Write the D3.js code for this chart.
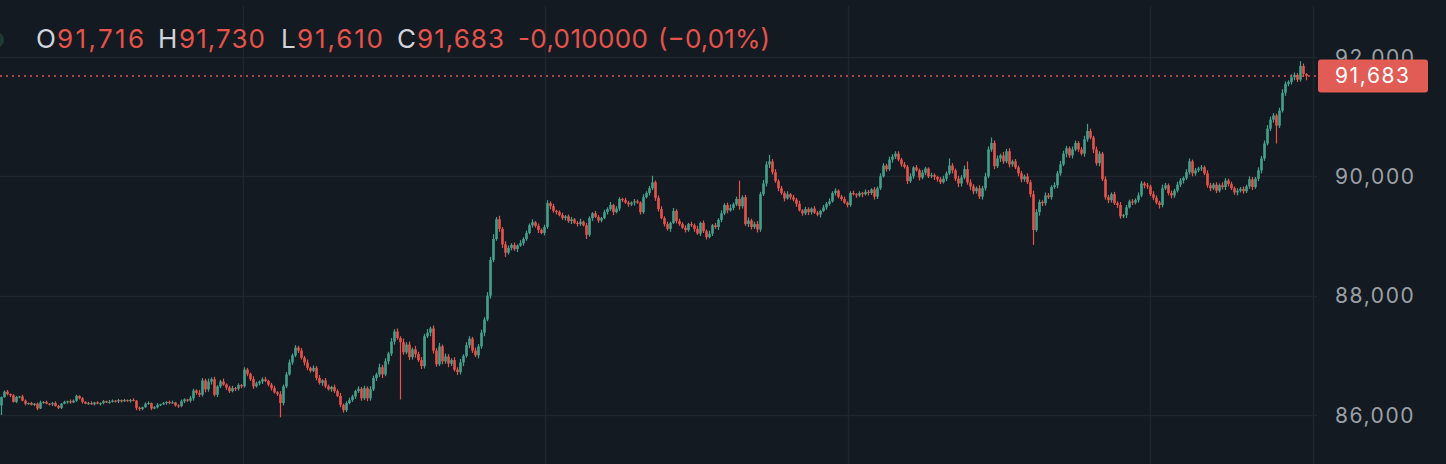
<!DOCTYPE html>
<meta charset="utf-8">
<body>
<script src="https://d3js.org/d3.v7.min.js" charset="utf-8"></script>
<style type="text/css">
  html, body {
    margin: 0;
    padding: 0;
    background: #131a21;
    overflow: hidden;
  }
  .legend text {
    font-family: Inter, "Noto Sans", sans-serif;
    font-size: 26px;
  }
  .axis text {
    font-family: Inter, "Noto Sans", sans-serif;
    font-size: 21px;
    letter-spacing: 1.6px;
    fill: #9ba0a7;
  }
</style>
<script>
var width = 1446;
var height = 464;

// close of every candle, left to right (open = previous close)
var firstOpen = 86160;
var closes = [
  86300,86390,86350,86330,86220,86300,86310,86240,86190,86200,
  86170,86190,86110,86210,86220,86190,86180,86200,86150,86120,
  86190,86220,86230,86210,86240,86320,86280,86220,86190,86200,
  86180,86210,86190,86200,86230,86210,86220,86240,86230,86250,
  86230,86250,86240,86250,86240,86120,86100,86130,86190,86200,
  86110,86130,86170,86180,86200,86220,86200,86210,86160,86150,
  86230,86260,86240,86280,86410,86370,86340,86580,86430,86560,
  86600,86340,86480,86560,86510,86460,86400,86450,86440,86500,
  86480,86760,86690,86600,86480,86530,86560,86600,86570,86510,
  86450,86380,86350,86200,86480,86680,86880,87000,87130,87080,
  86960,86880,86790,86740,86790,86620,86540,86580,86480,86430,
  86470,86400,86320,86170,86080,86200,86250,86310,86400,86440,
  86280,86450,86280,86430,86620,86680,86800,86680,86900,87030,
  87230,87400,87290,87220,87050,87180,86970,87100,87020,86920,
  86820,87320,87380,87450,87080,86850,87150,86900,86980,86860,
  86920,86760,86720,86880,86990,87170,87280,87080,87000,87150,
  87380,87600,88000,88600,88950,89280,89120,88860,88720,88800,
  88850,88780,88840,88880,88950,89050,89180,89230,89170,89100,
  89050,89150,89550,89500,89420,89400,89350,89300,89330,89250,
  89280,89220,89200,89240,89180,89020,89300,89380,89320,89260,
  89300,89400,89450,89520,89400,89460,89620,89600,89560,89530,
  89560,89580,89560,89400,89650,89720,89800,89900,89640,89450,
  89300,89200,89120,89220,89420,89250,89200,89140,89100,89200,
  89180,89120,89040,89220,89080,88980,89040,89180,89150,89270,
  89380,89520,89430,89470,89530,89620,89500,89650,89200,89260,
  89150,89200,89110,89700,89880,90200,90250,90070,89920,89800,
  89720,89630,89700,89650,89610,89540,89430,89380,89450,89400,
  89460,89390,89360,89420,89480,89540,89580,89720,89760,89660,
  89620,89560,89520,89720,89700,89680,89720,89700,89740,89720,
  89780,89660,89800,90000,90180,90120,90280,90330,90380,90280,
  90200,90160,89920,90000,90150,90100,89980,90060,90130,90000,
  90020,89990,89950,89900,89960,90050,90180,90100,89960,89880,
  89980,90120,89900,89830,89750,89800,89660,89800,90000,90450,
  90560,90170,90300,90350,90250,90420,90200,90250,90150,90050,
  89950,90000,89900,89700,89100,89400,89570,89550,89680,89650,
  89820,89850,90050,90200,90380,90470,90350,90450,90560,90450,
  90380,90620,90760,90650,90450,90220,90380,89950,89650,89600,
  89700,89550,89520,89330,89350,89480,89580,89560,89600,89680,
  89880,89850,89830,89700,89640,89560,89520,89800,89850,89720,
  89680,89760,89860,89930,89970,90070,90250,90050,90100,90130,
  90150,90050,89850,89800,89860,89760,89850,89820,89930,89870,
  89800,89730,89760,89790,89750,89830,89950,89820,89960,90100,
  90300,90550,90800,90950,91020,90850,91100,91400,91550,91580,
  91660,91700,91620,91850,91716,91683
];

// upper and lower wick length of each candle, in tens of price points
var wickUp = [
  1,2,3,1,2,2,1,3,2,1, 2,1,2,3,1,2,1,2,3,2, 1,2,1,3,2,2,1,2,1,2,
  3,1,2,1,2,1,3,2,1,2, 1,2,1,2,3,1,2,1,2,3, 1,2,3,1,2,1,2,3,1,2,
  3,2,1,4,3,2,5,4,3,5, 3,4,2,3,5,2,3,4,2,3, 2,4,3,2,5,3,2,3,4,2,
  3,4,2,5,3,4,5,3,4,3, 4,3,5,2,4,3,5,2,4,3, 2,4,3,5,2,3,4,3,2,4,
  3,4,3,5,4,3,6,4,5,3, 6,4,5,3,6,4,5,3,6,4, 5,4,6,3,5,4,6,3,5,4,
  3,5,4,6,3,5,4,3,5,4, 5,4,6,5,8,4,6,3,5,4, 3,4,2,5,3,4,3,5,2,4,
  3,4,6,3,4,2,3,4,2,3, 4,2,3,5,2,4,3,2,4,3, 2,4,3,5,2,4,3,2,4,3,
  2,4,3,2,5,3,4,6,3,4, 5,3,4,2,5,3,4,3,4,2, 4,3,5,2,4,3,5,2,4,3,
  5,3,4,6,3,4,5,3,4,5, 3,4,5,4,6,5,3,4,5,3, 4,3,5,2,4,3,5,2,4,3,
  2,4,3,2,4,3,5,3,4,2, 3,4,2,3,4,2,3,2,4,3, 2,4,3,5,4,3,5,4,3,4,
  3,4,3,5,2,4,3,5,3,2, 4,3,2,4,5,3,6,4,3,5, 4,6,3,5,4,3,5,4,6,5,
  6,4,5,3,6,4,5,3,4,3, 4,3,5,4,6,5,4,3,5,4, 3,5,4,6,5,4,3,5,4,3,
  4,6,5,4,3,5,4,3,5,4, 3,4,3,5,2,4,3,4,3,5, 4,3,4,3,5,4,3,6,4,3,
  4,3,5,4,3,5,6,3,4,3, 4,3,5,4,3,4,3,5,4,3, 4,3,4,3,4,3,5,4,3,5,
  4,5,6,5,4,3,5,6,4,3, 5,4,3,5,4,1
];
var wickDn = [
  2,1,2,3,1,2,2,1,3,2, 1,2,3,1,2,1,2,3,1,2, 2,1,3,2,1,2,2,3,1,2,
  1,2,1,3,2,1,2,1,2,3, 2,1,2,3,1,2,3,2,1,2, 3,1,2,2,1,3,2,1,2,3,
  2,3,2,3,4,3,4,3,5,4, 5,3,4,3,2,4,3,2,4,3, 3,2,4,3,4,2,3,4,2,3,
  4,2,3,5,4,3,2,4,3,4, 3,5,4,3,2,4,3,5,3,2, 4,3,2,4,5,3,2,3,4,3,
  4,3,5,4,3,5,4,6,3,5, 4,5,3,6,4,3,5,4,6,3, 5,4,3,6,5,4,3,5,4,6,
  4,3,5,4,6,3,5,4,3,5, 4,6,3,5,4,3,5,6,4,3, 4,3,5,2,4,3,2,4,3,5,
  2,4,3,5,3,4,2,3,4,3, 5,2,4,3,2,4,3,5,2,4, 3,2,4,3,5,2,4,3,2,4,
  3,5,2,4,3,2,4,3,5,4, 2,4,3,5,2,4,3,2,4,3, 3,5,2,4,3,5,2,4,3,5,
  4,3,5,2,4,3,6,4,3,5, 4,3,5,4,3,5,6,4,3,5, 3,5,2,4,3,5,2,4,3,5,
  4,2,3,5,2,4,3,2,4,3, 3,2,4,3,2,4,3,5,2,4, 3,5,4,3,2,4,3,5,4,3,
  4,3,5,3,4,2,5,3,4,3, 3,5,4,3,2,4,3,5,4,6, 5,3,4,6,5,4,3,5,4,3,
  4,5,3,6,4,3,5,4,3,5, 5,4,3,5,4,3,6,5,4,3, 4,3,5,4,3,6,4,5,3,4,
  3,5,4,3,6,4,5,3,4,5, 4,3,5,4,3,5,2,4,3,4, 3,5,4,3,4,3,5,4,3,4,
  5,4,3,4,5,3,4,5,4,3, 4,3,4,5,3,4,3,4,5,4, 3,4,5,3,4,3,4,5,3,4,
  5,4,3,4,5,6,4,3,5,4, 4,5,4,3,5,1
];

// candles with a long wick: [index, high, low]
var spikes = [
  [0, 86310, 86000], [45, null, 86080], [81, 86800, null], [93, null, 85960],
  [98, 87170, null], [114, null, 86040], [131, 87440, null], [133, null, 86260],
  [143, 87480, null], [165, 89320, null], [168, null, 88650], [182, 89600, null],
  [195, null, 88950], [217, 90010, null], [235, null, 88940], [246, 89930, null],
  [256, 90360, null], [298, 90420, null], [316, 90300, null], [322, 90250, null],
  [326, null, 89620], [330, 90650, null], [344, null, 88850], [362, 90880, null],
  [373, null, 89290], [386, null, 89460], [396, 90300, null], [425, null, 90550],
  [433, 91930, null], [435, 91730, 91610]
];

var priceTicks = [86000, 88000, 90000, 92000];
var timeGrid = [80.5, 181.2, 282.2, 382.8];   // candle positions of the time grid
var legendItems = [
  {label: "O", value: "91,716", x: 36, vx: 57, w: 87},
  {label: "H", value: "91,730", x: 158, vx: 179, w: 86},
  {label: "L", value: "91,610", x: 281, vx: 297, w: 86},
  {label: "C", value: "91,683", x: 397, vx: 417, w: 87},
  {label: "", value: "-0,010000", x: 518, vx: 518, w: 130},
  {label: "", value: "(\u22120,01%)", x: 658, vx: 658, w: 112}
];
var lastPrice = 91683;

var upColor = "#45a08b";
var downColor = "#e5534b";
var gridColor = "#1f262d";

// OHLC rows
var candles = closes.map(function(c, i) {
  var o = i === 0 ? firstOpen : closes[i - 1];
  return {
    i: i, o: o, c: c,
    h: Math.max(o, c) + wickUp[i] * 10,
    l: Math.min(o, c) - wickDn[i] * 10
  };
});
spikes.forEach(function(s) {
  if (s[1] !== null) candles[s[0]].h = s[1];
  if (s[2] !== null) candles[s[0]].l = s[2];
});

var fmt = d3.format(",");

var svg = d3.select("body")
            .append("svg")
            .attr("width", width)
            .attr("height", height);

svg.append("rect")
   .attr("width", width)
   .attr("height", height)
   .attr("fill", "#131a21");

var x = d3.scaleLinear()
          .domain([0, closes.length - 1])
          .range([1.5, 1306.5]);

var y = d3.scaleLinear()
          .domain([86000, 92000])
          .range([415, 57]);

var plotRight = 1317;

// grid
svg.append("g")
   .selectAll("line")
   .data(priceTicks)
   .enter()
   .append("line")
   .attr("x1", 0)
   .attr("x2", plotRight)
   .attr("y1", function(d) { return Math.round(y(d)) + 0.5; })
   .attr("y2", function(d) { return Math.round(y(d)) + 0.5; })
   .attr("stroke", gridColor)
   .attr("stroke-width", 1.5);

svg.append("g")
   .selectAll("line")
   .data(timeGrid)
   .enter()
   .append("line")
   .attr("x1", function(d) { return Math.round(x(d)) + 0.5; })
   .attr("x2", function(d) { return Math.round(x(d)) + 0.5; })
   .attr("y1", 6)
   .attr("y2", height)
   .attr("stroke", gridColor)
   .attr("stroke-width", 1.5);

// price axis border
svg.append("line")
   .attr("x1", 1313.5).attr("x2", 1313.5)
   .attr("y1", 6).attr("y2", height)
   .attr("stroke", gridColor)
   .attr("stroke-width", 1.5);

// candles
var candle = svg.append("g")
                .selectAll("g")
                .data(candles)
                .enter()
                .append("g");

candle.append("line")
      .attr("x1", function(d) { return x(d.i); })
      .attr("x2", function(d) { return x(d.i); })
      .attr("y1", function(d) { return y(d.h); })
      .attr("y2", function(d) { return y(d.l); })
      .attr("stroke", function(d) { return d.c >= d.o ? upColor : downColor; })
      .attr("stroke-width", 1.2);

candle.append("rect")
      .attr("x", function(d) { return x(d.i) - 1.3; })
      .attr("width", 2.6)
      .attr("y", function(d) { return y(Math.max(d.o, d.c)); })
      .attr("height", function(d) { return Math.max(1, Math.abs(y(d.o) - y(d.c))); })
      .attr("fill", function(d) { return d.c >= d.o ? upColor : downColor; });

// last price line
svg.append("line")
   .attr("x1", 0)
   .attr("x2", 1318)
   .attr("y1", y(lastPrice))
   .attr("y2", y(lastPrice))
   .attr("stroke", downColor)
   .attr("stroke-width", 1.5)
   .attr("stroke-dasharray", "2,4");

// price axis labels
var axis = svg.append("g").attr("class", "axis");
axis.selectAll("text")
    .data(priceTicks)
    .enter()
    .append("text")
    .attr("x", 1335)
    .attr("y", function(d) { return y(d); })
    .attr("dy", "0.36em")
    .text(fmt);

// last price label
svg.append("rect")
   .attr("x", 1318)
   .attr("y", y(lastPrice) - 16.5)
   .attr("width", 110)
   .attr("height", 33)
   .attr("rx", 3)
   .attr("fill", "#e05c55");

svg.append("text")
   .attr("x", 1335)
   .attr("y", y(lastPrice))
   .attr("dy", "0.36em")
   .attr("fill", "#ffffff")
   .style("font-family", "Inter, 'Noto Sans', sans-serif")
   .style("font-size", "21px")
   .style("letter-spacing", "1.6px")
   .text(fmt(lastPrice));

// legend marker (cut off at the left edge)
svg.append("circle")
   .attr("cx", -4)
   .attr("cy", 40)
   .attr("r", 8)
   .attr("fill", "#1e3a33");

// OHLC legend
var legend = svg.append("g").attr("class", "legend");
legend.selectAll("text.lbl")
      .data(legendItems.filter(function(d) { return d.label; }))
      .enter()
      .append("text")
      .attr("class", "lbl")
      .attr("x", function(d) { return d.x; })
      .attr("y", 48)
      .attr("fill", "#d1d4dc")
      .text(function(d) { return d.label; });

legend.selectAll("text.val")
      .data(legendItems)
      .enter()
      .append("text")
      .attr("class", "val")
      .attr("x", function(d) { return d.vx; })
      .attr("y", 48)
      .attr("fill", downColor)
      .attr("textLength", function(d) { return d.w; })
      .attr("lengthAdjust", "spacing")
      .text(function(d) { return d.value; });
</script>
</body>
</html>
